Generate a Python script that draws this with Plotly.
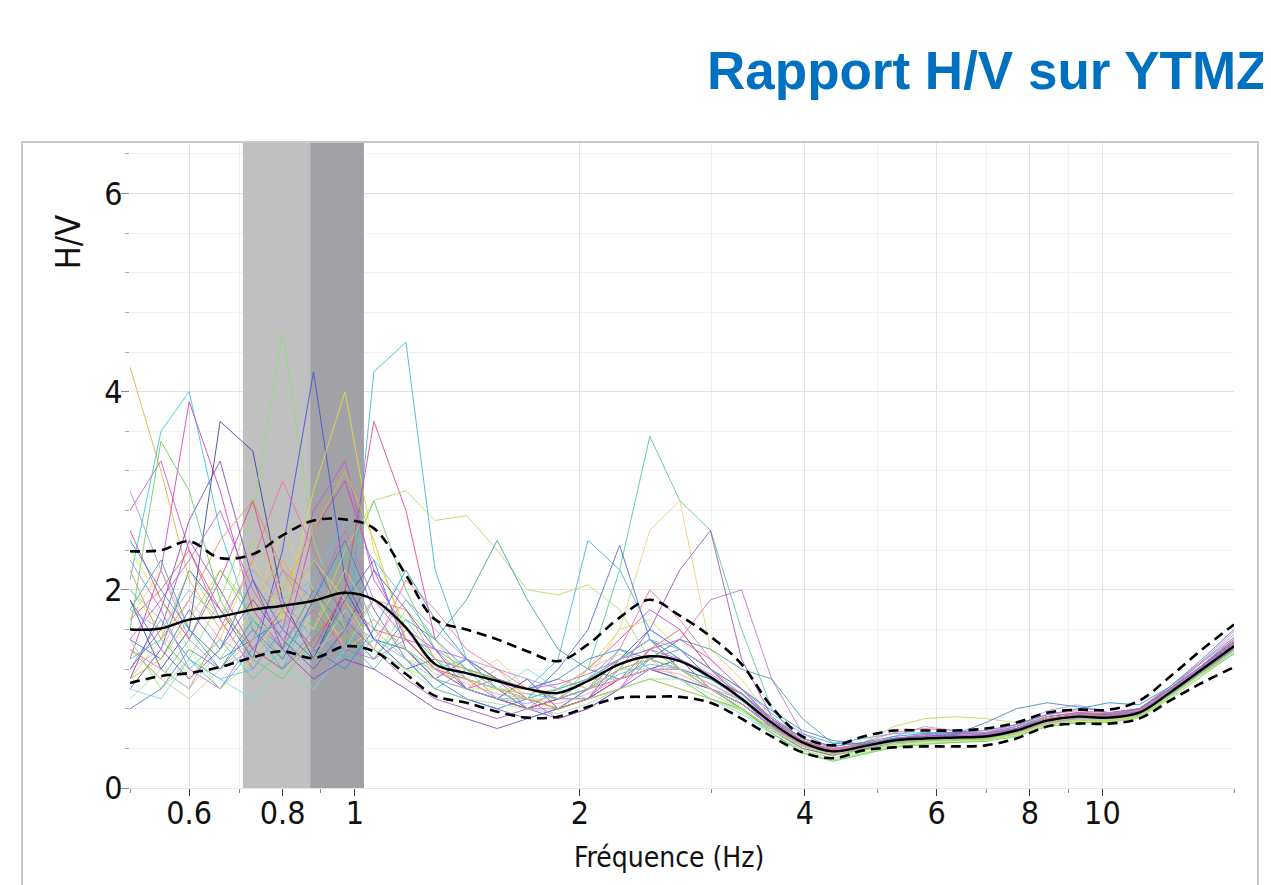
import plotly.graph_objects as go

# ---------------- data ----------------
freq = [0.50, 0.55, 0.60, 0.66, 0.73, 0.80, 0.88, 0.97, 1.06, 1.17, 1.28, 1.41, 1.55, 1.70,
        1.87, 2.05, 2.26, 2.48, 2.72, 2.99, 3.29, 3.61, 3.97, 4.36, 4.79, 5.26, 5.78, 6.35,
        6.98, 7.67, 8.43, 9.26, 10.2, 11.2, 12.3, 13.5, 15.0]

hv_mean = [1.60, 1.61, 1.70, 1.73, 1.80, 1.84, 1.89, 1.97, 1.90, 1.62, 1.25, 1.16, 1.08, 1.00,
           0.96, 1.08, 1.25, 1.33, 1.28, 1.12, 0.90, 0.66, 0.46, 0.37, 0.42, 0.48, 0.50, 0.51,
           0.52, 0.58, 0.68, 0.72, 0.71, 0.76, 0.96, 1.18, 1.43]
hv_upper = [2.39, 2.40, 2.49, 2.32, 2.36, 2.55, 2.70, 2.71, 2.62, 2.15, 1.70, 1.60, 1.50, 1.38,
            1.28, 1.45, 1.72, 1.90, 1.74, 1.53, 1.25, 0.82, 0.52, 0.43, 0.52, 0.58, 0.58, 0.58,
            0.60, 0.66, 0.76, 0.79, 0.79, 0.88, 1.12, 1.38, 1.65]
hv_lower = [1.06, 1.13, 1.16, 1.22, 1.32, 1.38, 1.31, 1.43, 1.38, 1.15, 0.93, 0.86, 0.77, 0.71,
            0.72, 0.82, 0.91, 0.92, 0.92, 0.86, 0.70, 0.52, 0.36, 0.30, 0.38, 0.41, 0.42, 0.42,
            0.43, 0.50, 0.62, 0.65, 0.65, 0.70, 0.88, 1.05, 1.22]

win01 = [4.25, 3.2, 2.1, 1.6, 1.9, 2.3, 1.8, 1.5, 1.7, 1.4, 1.1, 1.0, 1.2, 0.9, 0.8, 1.0, 1.3, 1.5, 1.2, 1.0, 0.85, 0.62, 0.44, 0.36, 0.40, 0.46, 0.49, 0.50, 0.50, 0.55, 0.66, 0.70, 0.70, 0.74, 0.95, 1.20, 1.50]
win02 = [2.1, 3.6, 4.0, 2.6, 1.6, 1.2, 1.9, 2.4, 1.6, 1.3, 1.0, 1.2, 0.9, 0.8, 1.0, 1.1, 1.4, 1.2, 1.1, 0.9, 0.8, 0.6, 0.42, 0.34, 0.40, 0.47, 0.50, 0.52, 0.53, 0.60, 0.70, 0.74, 0.72, 0.78, 0.98, 1.22, 1.48]
win03 = [1.3, 2.2, 3.9, 3.0, 1.8, 1.4, 2.6, 3.1, 2.2, 1.5, 1.2, 1.0, 1.1, 0.8, 0.9, 1.2, 1.5, 1.8, 1.6, 1.2, 0.9, 0.6, 0.45, 0.38, 0.45, 0.50, 0.52, 0.54, 0.52, 0.57, 0.66, 0.70, 0.72, 0.76, 0.98, 1.20, 1.45]
win04 = [1.9, 1.2, 1.6, 3.7, 3.4, 1.9, 1.3, 2.0, 1.5, 1.2, 1.3, 1.0, 0.9, 1.1, 0.8, 0.9, 1.1, 1.2, 1.3, 1.1, 0.95, 0.68, 0.48, 0.38, 0.42, 0.49, 0.51, 0.50, 0.54, 0.60, 0.70, 0.73, 0.73, 0.77, 0.94, 1.15, 1.38]
win05 = [1.5, 1.0, 1.3, 1.9, 2.8, 4.6, 2.5, 1.6, 1.3, 1.8, 1.5, 1.1, 1.0, 0.9, 0.8, 1.0, 1.2, 1.2, 1.1, 0.9, 0.78, 0.55, 0.36, 0.28, 0.35, 0.42, 0.45, 0.46, 0.48, 0.53, 0.62, 0.66, 0.67, 0.72, 0.92, 1.16, 1.40]
win06 = [1.0, 1.4, 2.2, 1.8, 1.3, 2.4, 4.2, 2.1, 1.5, 1.4, 1.1, 1.3, 1.0, 0.8, 0.9, 1.1, 1.3, 1.6, 1.4, 1.1, 0.9, 0.66, 0.45, 0.37, 0.41, 0.47, 0.49, 0.51, 0.52, 0.57, 0.68, 0.72, 0.70, 0.75, 0.96, 1.18, 1.42]
win07 = [2.0, 1.6, 1.1, 1.5, 2.3, 1.7, 3.0, 4.0, 2.4, 1.6, 1.3, 1.2, 1.0, 1.0, 0.9, 1.2, 1.6, 1.7, 1.4, 1.2, 0.95, 0.64, 0.44, 0.35, 0.40, 0.47, 0.50, 0.50, 0.51, 0.56, 0.66, 0.72, 0.71, 0.76, 0.97, 1.20, 1.46]
win08 = [1.2, 1.7, 1.3, 1.0, 1.4, 1.2, 1.6, 1.3, 4.2, 4.5, 2.2, 1.3, 1.1, 1.0, 1.3, 2.5, 2.2, 1.6, 1.4, 1.2, 1.0, 0.75, 0.55, 0.45, 0.50, 0.55, 0.56, 0.56, 0.55, 0.60, 0.72, 0.76, 0.74, 0.80, 1.02, 1.25, 1.52]
win09 = [2.6, 1.9, 1.5, 2.1, 2.9, 1.8, 1.4, 2.0, 3.7, 2.8, 1.5, 1.2, 1.1, 0.9, 0.8, 0.9, 1.1, 1.2, 1.2, 1.0, 0.85, 0.62, 0.43, 0.35, 0.42, 0.50, 0.54, 0.55, 0.55, 0.62, 0.72, 0.76, 0.75, 0.79, 1.00, 1.22, 1.50]
win10 = [1.1, 1.5, 2.2, 1.7, 2.5, 2.0, 1.6, 2.4, 2.9, 3.0, 2.7, 2.75, 2.4, 2.0, 1.95, 2.05, 1.8, 1.3, 1.1, 1.0, 0.85, 0.6, 0.40, 0.32, 0.46, 0.62, 0.70, 0.72, 0.70, 0.66, 0.70, 0.74, 0.73, 0.78, 0.98, 1.20, 1.44]
win11 = [1.4, 1.1, 1.5, 2.2, 1.7, 1.3, 1.9, 1.5, 1.2, 1.6, 1.3, 1.0, 0.9, 0.9, 1.0, 1.2, 2.2, 3.55, 2.9, 2.6, 1.6, 0.8, 0.44, 0.34, 0.40, 0.46, 0.49, 0.50, 0.52, 0.58, 0.68, 0.72, 0.71, 0.76, 0.96, 1.18, 1.42]
win12 = [1.7, 2.2, 1.6, 1.3, 1.8, 2.6, 2.0, 1.4, 1.6, 1.3, 1.2, 1.1, 1.3, 1.0, 0.9, 1.1, 1.6, 2.6, 2.9, 1.4, 1.1, 0.7, 0.47, 0.38, 0.43, 0.49, 0.51, 0.52, 0.53, 0.59, 0.69, 0.73, 0.72, 0.77, 0.97, 1.19, 1.44]
win13 = [1.2, 1.6, 2.5, 2.0, 1.4, 1.8, 2.3, 1.7, 1.4, 1.1, 0.9, 0.8, 0.7, 0.8, 0.9, 0.9, 1.2, 1.6, 2.2, 2.6, 1.3, 0.72, 0.50, 0.40, 0.44, 0.50, 0.52, 0.53, 0.54, 0.60, 0.70, 0.75, 0.74, 0.78, 0.99, 1.21, 1.47]
win14 = [2.3, 1.8, 1.2, 1.0, 1.5, 2.2, 1.9, 2.6, 1.9, 1.5, 1.2, 1.0, 0.9, 0.8, 0.8, 0.9, 1.0, 1.3, 1.5, 1.9, 2.0, 1.1, 0.55, 0.40, 0.44, 0.50, 0.53, 0.55, 0.56, 0.62, 0.72, 0.76, 0.75, 0.80, 1.00, 1.25, 1.55]
win15 = [1.5, 1.3, 1.8, 1.4, 2.1, 1.6, 1.3, 1.9, 2.3, 1.4, 1.1, 0.9, 0.8, 0.9, 1.2, 1.6, 2.45, 1.5, 1.2, 1.0, 0.85, 0.62, 0.44, 0.36, 0.41, 0.47, 0.50, 0.51, 0.52, 0.58, 0.68, 0.72, 0.71, 0.75, 0.95, 1.17, 1.40]
win16 = [1.8, 2.3, 1.6, 1.2, 1.7, 1.4, 2.0, 1.6, 1.3, 1.7, 1.5, 1.9, 2.5, 1.9, 1.4, 1.2, 1.1, 1.3, 1.5, 1.4, 1.2, 1.1, 0.7, 0.45, 0.44, 0.50, 0.52, 0.53, 0.54, 0.60, 0.70, 0.74, 0.73, 0.77, 0.97, 1.19, 1.45]
win17 = [2.8, 3.3, 2.4, 1.7, 1.2, 1.6, 2.8, 3.3, 2.1, 1.6, 1.4, 1.1, 1.0, 0.9, 0.7, 0.8, 1.0, 1.4, 1.5, 1.3, 1.0, 0.68, 0.47, 0.37, 0.43, 0.49, 0.52, 0.53, 0.52, 0.59, 0.68, 0.72, 0.72, 0.77, 0.97, 1.19, 1.46]
win18 = [1.0, 0.9, 1.3, 1.1, 0.9, 1.2, 1.0, 1.4, 1.9, 1.7, 1.3, 1.1, 1.0, 1.2, 1.0, 0.9, 1.0, 1.1, 1.0, 0.9, 0.75, 0.55, 0.38, 0.30, 0.38, 0.45, 0.47, 0.48, 0.49, 0.55, 0.65, 0.69, 0.69, 0.73, 0.92, 1.14, 1.35]
win19 = [1.1, 1.8, 2.7, 3.3, 2.1, 1.4, 1.1, 1.3, 1.2, 1.0, 0.8, 0.7, 0.6, 0.7, 0.8, 0.9, 1.3, 1.5, 1.3, 1.0, 0.8, 0.58, 0.40, 0.33, 0.39, 0.46, 0.48, 0.49, 0.50, 0.56, 0.66, 0.70, 0.70, 0.74, 0.94, 1.16, 1.40]
win20 = [2.2, 1.5, 1.9, 2.5, 2.9, 2.2, 1.7, 1.5, 1.9, 1.8, 1.3, 1.2, 1.1, 1.0, 1.1, 1.0, 1.2, 1.3, 1.2, 1.1, 0.95, 0.7, 0.48, 0.39, 0.44, 0.50, 0.52, 0.52, 0.53, 0.59, 0.70, 0.74, 0.73, 0.78, 0.99, 1.22, 1.50]
win21 = [1.6, 3.5, 3.0, 1.9, 1.3, 1.1, 1.5, 2.2, 2.9, 2.0, 1.4, 1.2, 1.1, 1.0, 0.9, 1.0, 1.3, 1.4, 1.2, 1.0, 0.8, 0.56, 0.35, 0.27, 0.34, 0.41, 0.44, 0.46, 0.47, 0.52, 0.62, 0.66, 0.66, 0.71, 0.90, 1.12, 1.36]
win22 = [1.4, 1.2, 1.0, 1.6, 2.3, 3.1, 2.4, 1.8, 1.4, 2.1, 1.8, 1.4, 1.2, 1.0, 0.9, 1.0, 1.4, 2.0, 1.7, 1.3, 1.0, 0.7, 0.46, 0.38, 0.46, 0.56, 0.60, 0.58, 0.56, 0.64, 0.74, 0.78, 0.76, 0.80, 1.02, 1.26, 1.58]
win23 = [0.8, 1.0, 1.4, 1.2, 1.6, 1.3, 1.9, 2.5, 1.8, 1.3, 1.0, 0.9, 0.8, 0.7, 0.8, 1.0, 1.2, 1.3, 1.4, 1.2, 1.0, 0.78, 0.58, 0.48, 0.44, 0.50, 0.52, 0.54, 0.66, 0.80, 0.86, 0.82, 0.76, 0.80, 1.00, 1.22, 1.48]
win24 = [3.0, 2.2, 1.5, 1.2, 1.4, 1.9, 1.5, 1.2, 1.5, 1.9, 1.6, 1.3, 1.2, 1.1, 1.0, 1.1, 1.1, 1.2, 1.1, 1.0, 0.9, 0.64, 0.44, 0.36, 0.42, 0.52, 0.62, 0.58, 0.54, 0.62, 0.78, 0.84, 0.76, 0.78, 0.98, 1.22, 1.52]
win25 = [1.3, 1.5, 1.2, 1.5, 1.1, 1.4, 1.7, 1.3, 1.5, 1.4, 1.2, 1.3, 1.0, 0.9, 1.0, 1.1, 1.3, 1.5, 1.3, 1.1, 0.92, 0.66, 0.44, 0.35, 0.40, 0.46, 0.48, 0.50, 0.50, 0.56, 0.66, 0.70, 0.70, 0.74, 0.94, 1.16, 1.40]
win26 = [1.1, 1.3, 1.7, 2.2, 1.8, 2.0, 2.6, 3.2, 2.5, 1.5, 1.2, 1.1, 1.0, 0.9, 0.8, 0.9, 1.0, 1.1, 1.0, 0.9, 0.8, 0.6, 0.42, 0.34, 0.38, 0.44, 0.47, 0.48, 0.49, 0.54, 0.64, 0.68, 0.68, 0.72, 0.92, 1.14, 1.38]
win27 = [1.9, 1.4, 1.1, 1.4, 1.9, 1.5, 1.2, 1.6, 2.2, 1.8, 1.4, 1.0, 0.9, 0.8, 0.7, 0.8, 1.0, 1.2, 1.1, 1.0, 0.85, 0.63, 0.45, 0.36, 0.42, 0.48, 0.50, 0.51, 0.51, 0.57, 0.67, 0.71, 0.71, 0.75, 0.95, 1.17, 1.41]
win28 = [2.4, 1.9, 1.4, 1.0, 1.3, 1.8, 2.3, 1.9, 1.4, 1.2, 1.1, 1.0, 1.0, 0.9, 0.9, 1.0, 1.2, 1.3, 1.2, 1.0, 0.82, 0.58, 0.38, 0.30, 0.36, 0.43, 0.46, 0.47, 0.48, 0.53, 0.63, 0.67, 0.67, 0.71, 0.90, 1.12, 1.38]
win29 = [1.7, 2.0, 2.4, 1.8, 1.4, 1.2, 1.5, 1.9, 1.6, 1.5, 1.2, 1.1, 0.9, 0.8, 0.9, 1.0, 1.1, 1.4, 1.6, 1.2, 0.9, 0.64, 0.45, 0.36, 0.42, 0.48, 0.50, 0.52, 0.52, 0.58, 0.68, 0.72, 0.72, 0.76, 0.96, 1.18, 1.44]
win30 = [2.5, 2.0, 1.6, 1.3, 1.5, 1.7, 1.4, 1.2, 1.6, 2.2, 1.7, 1.3, 1.1, 1.0, 1.1, 1.3, 1.4, 1.3, 1.2, 1.1, 0.96, 0.7, 0.50, 0.42, 0.46, 0.52, 0.55, 0.56, 0.58, 0.64, 0.74, 0.80, 0.86, 0.84, 1.02, 1.28, 1.60]
win31 = [0.9, 1.2, 1.0, 1.4, 1.7, 1.5, 1.3, 1.8, 1.4, 1.2, 1.0, 0.9, 0.85, 0.8, 0.75, 0.85, 1.0, 1.1, 1.1, 0.95, 0.8, 0.6, 0.42, 0.34, 0.40, 0.46, 0.48, 0.49, 0.50, 0.55, 0.65, 0.69, 0.69, 0.74, 0.93, 1.15, 1.39]
win32 = [1.5, 1.9, 2.3, 2.8, 2.0, 1.5, 1.8, 1.4, 1.3, 1.5, 1.4, 1.3, 1.1, 1.0, 1.05, 1.15, 1.3, 1.4, 1.3, 1.15, 0.95, 0.68, 0.47, 0.38, 0.43, 0.49, 0.51, 0.52, 0.53, 0.59, 0.69, 0.73, 0.72, 0.77, 0.97, 1.20, 1.46]
win33 = [2.0, 1.7, 1.3, 1.1, 1.2, 1.6, 2.1, 2.7, 2.3, 1.9, 1.5, 1.2, 1.0, 0.95, 0.9, 1.0, 1.15, 1.25, 1.2, 1.05, 0.88, 0.64, 0.45, 0.36, 0.41, 0.47, 0.50, 0.51, 0.52, 0.57, 0.67, 0.71, 0.71, 0.75, 0.96, 1.18, 1.42]
win34 = [1.2, 1.4, 1.9, 1.5, 1.3, 1.7, 1.4, 1.6, 1.9, 1.6, 1.2, 1.05, 0.95, 0.9, 0.85, 0.95, 1.1, 1.2, 1.15, 1.0, 0.85, 0.62, 0.43, 0.35, 0.41, 0.47, 0.49, 0.50, 0.51, 0.56, 0.66, 0.70, 0.70, 0.75, 0.95, 1.17, 1.41]
win35 = [1.8, 1.6, 2.0, 1.7, 2.2, 1.9, 2.1, 1.7, 1.5, 1.3, 1.1, 1.0, 0.9, 0.85, 0.95, 1.1, 1.3, 1.5, 1.4, 1.2, 0.95, 0.66, 0.46, 0.37, 0.42, 0.48, 0.51, 0.52, 0.52, 0.58, 0.68, 0.72, 0.71, 0.76, 0.96, 1.18, 1.43]
win36 = [1.4, 1.1, 0.9, 1.2, 1.5, 1.8, 1.6, 2.2, 1.7, 1.4, 1.15, 1.1, 1.0, 0.95, 1.0, 1.2, 1.35, 1.3, 1.2, 1.05, 0.9, 0.65, 0.44, 0.36, 0.41, 0.47, 0.50, 0.51, 0.51, 0.57, 0.67, 0.71, 0.70, 0.75, 0.95, 1.17, 1.42]

windows = [win01, win02, win03, win04, win05, win06, win07, win08, win09, win10,
           win11, win12, win13, win14, win15, win16, win17, win18, win19, win20,
           win21, win22, win23, win24, win25, win26, win27, win28, win29, win30,
           win31, win32, win33, win34, win35, win36]

window_colors = ["#e8b040", "#30c8d8", "#d040c0", "#3040a0", "#90e070", "#4050e0",
                 "#e0e040", "#40b0e0", "#e04090", "#b8d860", "#50c890", "#e8d070",
                 "#a050c0", "#c070d0", "#4070d0", "#40a0a0", "#d050d0", "#70e0e0",
                 "#8040c0", "#e09050", "#60d060", "#f070a0", "#5080c0", "#b090e0",
                 "#40d0b0", "#d8c030", "#7050d0", "#c0f060", "#e06060", "#3090d0",
                 "#a0e0a0", "#c060e0", "#60c0f0", "#f0a0c0", "#90b0f0", "#e0c090"]

band_light = [0.708, 0.871]   # peak-frequency range (light grey)
band_dark = [0.871, 1.028]    # f0 ± std (dark grey)
y_top = 6.51

x_ticks = [0.6, 0.8, 1, 2, 4, 6, 8, 10]
x_tick_text = ["0.6", "0.8", "1", "2", "4", "6", "8", "10"]
x_minor = [0.5, 0.7, 0.9, 3, 5, 7, 9, 15]
y_ticks = [0, 2, 4, 6]

title_text = "Rapport H/V sur YTMZ"
x_title = "Fréquence (Hz)"
y_title = "H/V"

# ---------------- figure ----------------
fig = go.Figure()

# bands drawn as filled traces under the curves
for (b0, b1), col in ((band_light, "#c0c0c0"), (band_dark, "#a2a2a6")):
    fig.add_trace(go.Scatter(x=[b0, b0, b1, b1, b0], y=[0, y_top, y_top, 0, 0],
                             mode="lines", fill="toself", fillcolor=col,
                             line=dict(width=0, color=col), hoverinfo="skip",
                             showlegend=False))

for w, c in zip(windows, window_colors):
    fig.add_trace(go.Scatter(x=freq, y=w, mode="lines",
                             line=dict(color=c, width=1), opacity=0.85,
                             hoverinfo="skip", showlegend=False))

fig.add_trace(go.Scatter(x=freq, y=hv_upper, mode="lines",
                         line=dict(color="black", width=2.6, dash="10px,6px", shape="spline"),
                         showlegend=False))
fig.add_trace(go.Scatter(x=freq, y=hv_lower, mode="lines",
                         line=dict(color="black", width=2.6, dash="10px,6px", shape="spline"),
                         showlegend=False))
fig.add_trace(go.Scatter(x=freq, y=hv_mean, mode="lines",
                         line=dict(color="black", width=2.4, shape="spline"),
                         showlegend=False))

# outer frame
fig.add_shape(type="rect", xref="paper", yref="paper", x0=-0.0978, x1=1.0217,
              y0=-0.25, y1=1.0016, line=dict(color="#c8c8c8", width=2),
              fillcolor="rgba(0,0,0,0)", layer="above")

font_fam = "DejaVu Sans Condensed, DejaVu Sans, sans-serif"

fig.add_annotation(text="<b>" + title_text + "</b>", xref="paper", yref="paper",
                   x=1.0330, y=1.112, xanchor="right", yanchor="middle", showarrow=False,
                   font=dict(family="Liberation Sans, Arial, sans-serif", size=53, color="#0070c0"))
fig.add_annotation(text=y_title, xref="paper", yref="paper", x=-0.0560, y=0.8465,
                   xanchor="center", yanchor="middle", textangle=-90, showarrow=False,
                   font=dict(family=font_fam, size=34, color="#111111"))
fig.add_annotation(text=x_title, xref="paper", yref="paper", x=0.488, y=-0.1085,
                   xanchor="center", yanchor="middle", showarrow=False,
                   font=dict(family=font_fam, size=28, color="#111111"))

fig.update_xaxes(type="log", range=[-0.30103, 1.17609],
                 tickvals=x_ticks, ticktext=x_tick_text,
                 ticks="outside", ticklen=7, tickcolor="#444444", tickwidth=1,
                 ticklabelstandoff=-10,
                 showgrid=True, gridcolor="#e2e2e2", gridwidth=1,
                 minor=dict(tickvals=x_minor, ticks="outside", ticklen=4,
                            tickcolor="#888888", showgrid=True, gridcolor="#efefef"),
                 showline=True, linecolor="#e6e6e6", linewidth=1,
                 zeroline=False, mirror=False,
                 tickfont=dict(family=font_fam, size=32, color="#111111"))
fig.update_yaxes(range=[0, y_top], tickvals=y_ticks,
                 ticks="outside", ticklen=8, tickcolor="#888888", tickwidth=1,
                 ticklabelstandoff=-8,
                 showgrid=True, gridcolor="#e2e2e2", gridwidth=1,
                 minor=dict(dtick=0.4, tick0=0, ticks="outside", ticklen=4,
                            tickcolor="#aaaaaa", showgrid=True, gridcolor="#f2f2f2"),
                 showline=False, zeroline=False,
                 tickfont=dict(family=font_fam, size=32, color="#111111"))

# the page body adds an 8 px offset; size the figure so the plot lands where the reference has it
fig.update_layout(width=1263, height=877,
                  margin=dict(l=122, r=37, t=135, b=97, pad=0),
                  paper_bgcolor="white", plot_bgcolor="white",
                  showlegend=False)

fig.write_html("out.html")
